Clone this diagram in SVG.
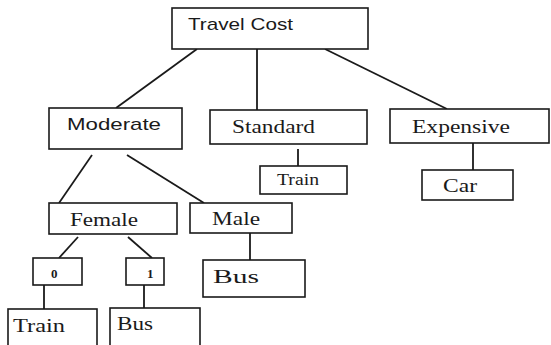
<svg xmlns="http://www.w3.org/2000/svg" width="551" height="345" viewBox="0 0 551 345">
<style>
.box{fill:#fff;stroke:#1a1a1a;stroke-width:1.6}
.ln{stroke:#1a1a1a;stroke-width:1.8;fill:none}
.sans{font-family:"Liberation Sans","Open Sans",sans-serif;font-size:17px;fill:#1a1a1a}
.serif{font-family:"Liberation Serif","Times New Roman",serif;font-size:18px;fill:#1a1a1a}
</style>
<rect width="551" height="345" fill="#fff"/>
<g id="connectors">
<line class="ln" x1="197" y1="49" x2="116" y2="108"/>
<line class="ln" x1="257" y1="49" x2="257" y2="110"/>
<line class="ln" x1="325" y1="49" x2="447" y2="109"/>
<line class="ln" x1="92" y1="155" x2="59" y2="203"/>
<line class="ln" x1="127" y1="155" x2="204" y2="203"/>
<line class="ln" x1="298" y1="149" x2="298" y2="166"/>
<line class="ln" x1="473" y1="143" x2="473" y2="170"/>
<line class="ln" x1="78" y1="237" x2="59" y2="258"/>
<line class="ln" x1="128" y1="237" x2="152" y2="258"/>
<line class="ln" x1="250" y1="233" x2="250" y2="260"/>
<line class="ln" x1="44" y1="285" x2="44" y2="309"/>
<line class="ln" x1="144" y1="285" x2="144" y2="308"/>
</g>
<g id="travel-cost">
<rect class="box" x="172" y="8" width="196" height="41"/>
<text class="sans" x="188" y="30" textLength="105" lengthAdjust="spacingAndGlyphs">Travel Cost</text>
</g>
<g id="moderate">
<rect class="box" x="49" y="108" width="133" height="41"/>
<text class="sans" x="67" y="130" textLength="94" lengthAdjust="spacingAndGlyphs">Moderate</text>
</g>
<g id="standard">
<rect class="box" x="210" y="110" width="157" height="34"/>
<text class="serif" x="232" y="133" textLength="83" lengthAdjust="spacingAndGlyphs">Standard</text>
</g>
<g id="expensive">
<rect class="box" x="390" y="109" width="159" height="34"/>
<text class="serif" x="412" y="133" textLength="98" lengthAdjust="spacingAndGlyphs">Expensive</text>
</g>
<g id="train-standard">
<rect class="box" x="260" y="166" width="87" height="28"/>
<text class="serif" x="277" y="185" textLength="42" lengthAdjust="spacingAndGlyphs" style="font-size:16px">Train</text>
</g>
<g id="car">
<rect class="box" x="422" y="170" width="91" height="30"/>
<text class="serif" x="443" y="192" textLength="34" lengthAdjust="spacingAndGlyphs">Car</text>
</g>
<g id="female">
<rect class="box" x="49" y="203" width="128" height="31"/>
<text class="serif" x="70" y="226" textLength="68" lengthAdjust="spacingAndGlyphs">Female</text>
</g>
<g id="male">
<rect class="box" x="190" y="203" width="102" height="30"/>
<text class="serif" x="212" y="225" textLength="48" lengthAdjust="spacingAndGlyphs">Male</text>
</g>
<g id="zero">
<rect class="box" x="33" y="258" width="49" height="27"/>
<text class="serif" x="51" y="278" style="font-size:13px;font-weight:bold">0</text>
</g>
<g id="one">
<rect class="box" x="126" y="258" width="38" height="27"/>
<text class="serif" x="147" y="278" style="font-size:13px;font-weight:bold">1</text>
</g>
<g id="bus-male">
<rect class="box" x="203" y="260" width="102" height="37"/>
<text class="serif" x="213" y="283" textLength="46" lengthAdjust="spacingAndGlyphs">Bus</text>
</g>
<g id="train-bottom">
<rect class="box" x="8" y="309" width="89" height="40"/>
<text class="serif" x="13" y="332" textLength="52" lengthAdjust="spacingAndGlyphs">Train</text>
</g>
<g id="bus-bottom">
<rect class="box" x="110" y="308" width="90" height="41"/>
<text class="serif" x="117" y="330" textLength="36" lengthAdjust="spacingAndGlyphs">Bus</text>
</g>
</svg>
